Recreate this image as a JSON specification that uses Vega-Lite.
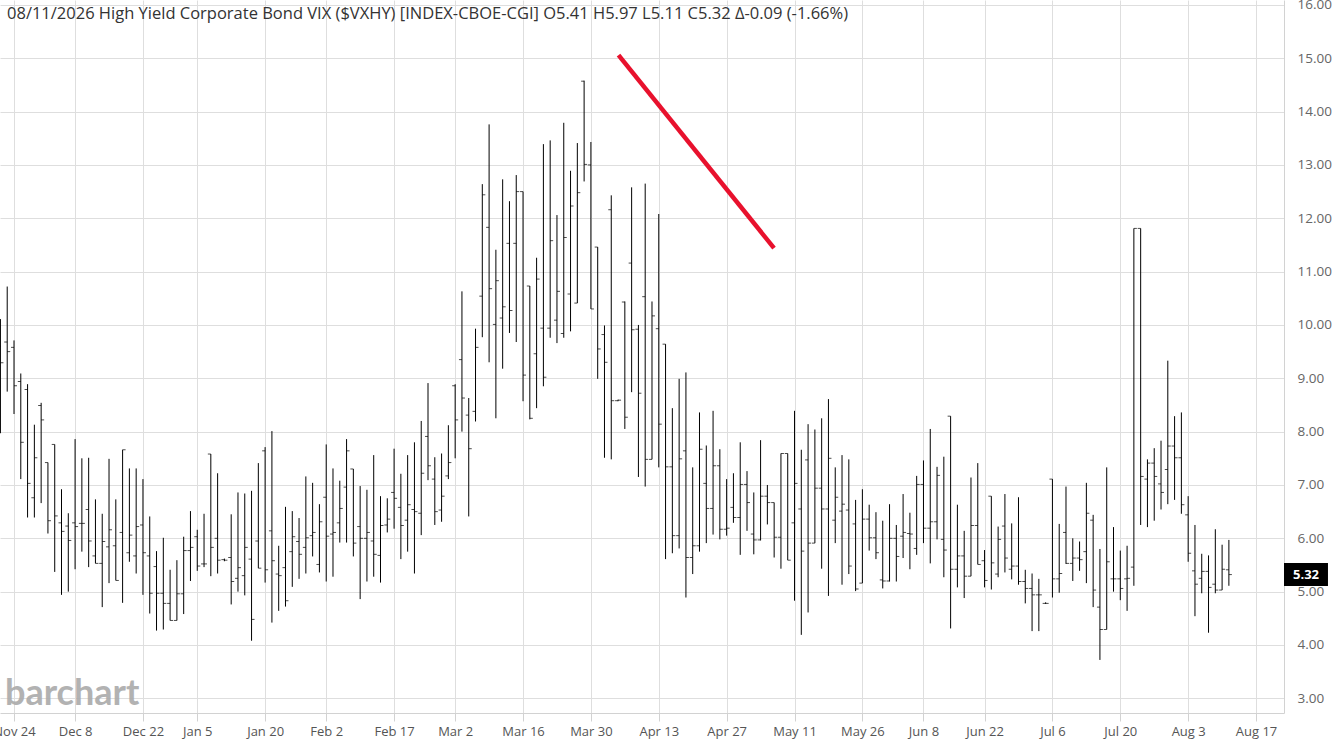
{
  "$schema": "https://vega.github.io/schema/vega-lite/v6.json",
  "width": 1284,
  "height": 713,
  "autosize": {"type": "none"},
  "padding": {"left": 0, "top": 0, "right": 53, "bottom": 30},
  "background": "#ffffff",
  "config": {
    "view": {"stroke": null},
    "axis": {"zindex": 0, "labelFont": "Open Sans", "titleFont": "Open Sans"},
    "text": {"font": "Open Sans"}
  },
  "datasets": {
    "bars": [
      {"t":0,"o":9.6,"h":10.11,"l":7.97,"c":9.29},
      {"t":1,"o":9.68,"h":10.72,"l":8.75,"c":9.5},
      {"t":2,"o":9.58,"h":9.71,"l":8.33,"c":8.86},
      {"t":3,"o":8.94,"h":9.09,"l":7.11,"c":7.8},
      {"t":4,"o":8.79,"h":8.89,"l":6.39,"c":7.03},
      {"t":5,"o":6.76,"h":8.13,"l":6.39,"c":7.51},
      {"t":6,"o":8.49,"h":8.54,"l":6.66,"c":8.22},
      {"t":7,"o":7.42,"h":7.42,"l":6.09,"c":6.33},
      {"t":8,"o":7.76,"h":7.76,"l":5.37,"c":6.42},
      {"t":9,"o":6.29,"h":6.92,"l":4.94,"c":6.13},
      {"t":10,"o":6.23,"h":6.47,"l":5.0,"c":5.96},
      {"t":11,"o":6.29,"h":7.86,"l":5.42,"c":6.22},
      {"t":12,"o":6.28,"h":7.5,"l":5.75,"c":6.28},
      {"t":13,"o":6.54,"h":7.51,"l":5.46,"c":5.95},
      {"t":14,"o":5.67,"h":6.73,"l":5.53,"c":5.53},
      {"t":15,"o":5.53,"h":6.46,"l":4.71,"c":5.94},
      {"t":16,"o":5.84,"h":7.49,"l":5.16,"c":6.16},
      {"t":17,"o":5.86,"h":6.73,"l":5.21,"c":5.21},
      {"t":18,"o":6.11,"h":7.66,"l":4.79,"c":7.66},
      {"t":19,"o":5.73,"h":7.31,"l":5.56,"c":6.06},
      {"t":20,"o":5.67,"h":7.31,"l":5.34,"c":6.22},
      {"t":21,"o":6.25,"h":7.11,"l":4.94,"c":5.73},
      {"t":22,"o":5.67,"h":6.41,"l":4.59,"c":4.97},
      {"t":23,"o":5.47,"h":5.76,"l":4.27,"c":4.97},
      {"t":24,"o":4.97,"h":6.01,"l":4.29,"c":4.78},
      {"t":25,"o":4.78,"h":5.41,"l":4.46,"c":4.46},
      {"t":26,"o":4.46,"h":5.59,"l":4.46,"c":4.96},
      {"t":27,"o":4.96,"h":6.03,"l":4.58,"c":5.77},
      {"t":28,"o":5.77,"h":6.51,"l":5.2,"c":5.83},
      {"t":29,"o":6.03,"h":6.16,"l":5.39,"c":5.48},
      {"t":30,"o":5.52,"h":6.46,"l":5.46,"c":5.52},
      {"t":31,"o":7.58,"h":7.58,"l":5.29,"c":5.83},
      {"t":32,"o":6.0,"h":7.22,"l":5.34,"c":5.59},
      {"t":33,"o":5.6,"h":5.62,"l":5.57,"c":5.59},
      {"t":34,"o":5.64,"h":6.45,"l":4.76,"c":5.19},
      {"t":35,"o":5.25,"h":6.86,"l":5.0,"c":5.45},
      {"t":36,"o":5.3,"h":6.84,"l":4.93,"c":5.83},
      {"t":37,"o":5.61,"h":6.89,"l":4.08,"c":4.48},
      {"t":38,"o":5.95,"h":7.41,"l":5.44,"c":5.44},
      {"t":39,"o":7.64,"h":7.71,"l":5.17,"c":5.41},
      {"t":40,"o":6.14,"h":8.01,"l":4.42,"c":5.58},
      {"t":41,"o":5.33,"h":5.86,"l":4.64,"c":5.3},
      {"t":42,"o":5.45,"h":6.59,"l":4.72,"c":4.83},
      {"t":43,"o":5.75,"h":6.51,"l":5.09,"c":6.03},
      {"t":44,"o":5.94,"h":6.38,"l":5.24,"c":5.7},
      {"t":45,"o":5.83,"h":7.16,"l":5.34,"c":6.01},
      {"t":46,"o":6.05,"h":7.04,"l":5.66,"c":6.11},
      {"t":47,"o":5.51,"h":6.64,"l":5.36,"c":6.31},
      {"t":48,"o":6.77,"h":7.76,"l":5.19,"c":6.04},
      {"t":49,"o":6.08,"h":7.31,"l":5.28,"c":6.11},
      {"t":50,"o":6.29,"h":7.08,"l":5.92,"c":6.56},
      {"t":51,"o":6.96,"h":7.86,"l":5.92,"c":7.64},
      {"t":52,"o":7.3,"h":7.3,"l":5.66,"c":5.91},
      {"t":53,"o":6.22,"h":6.98,"l":4.86,"c":6.0},
      {"t":54,"o":6.0,"h":6.91,"l":5.19,"c":6.11},
      {"t":55,"o":5.95,"h":7.56,"l":5.28,"c":5.7},
      {"t":56,"o":5.68,"h":6.79,"l":5.17,"c":6.24},
      {"t":57,"o":6.25,"h":6.75,"l":6.11,"c":6.36},
      {"t":58,"o":6.86,"h":7.68,"l":6.18,"c":6.75},
      {"t":59,"o":6.58,"h":7.21,"l":5.61,"c":6.24},
      {"t":60,"o":6.34,"h":7.56,"l":5.75,"c":6.63},
      {"t":61,"o":6.54,"h":7.8,"l":5.34,"c":6.5},
      {"t":62,"o":6.47,"h":8.2,"l":6.06,"c":7.22},
      {"t":63,"o":7.91,"h":8.91,"l":7.09,"c":7.36},
      {"t":64,"o":7.11,"h":7.52,"l":6.25,"c":6.5},
      {"t":65,"o":6.53,"h":7.59,"l":6.31,"c":6.79},
      {"t":66,"o":7.17,"h":8.12,"l":7.11,"c":7.42},
      {"t":67,"o":8.86,"h":8.89,"l":7.5,"c":8.22},
      {"t":68,"o":9.35,"h":10.63,"l":8.0,"c":8.63},
      {"t":69,"o":8.31,"h":8.63,"l":6.41,"c":7.68},
      {"t":70,"o":8.38,"h":9.93,"l":8.19,"c":9.58},
      {"t":71,"o":10.54,"h":12.64,"l":9.77,"c":12.44},
      {"t":72,"o":11.83,"h":13.76,"l":9.3,"c":10.68},
      {"t":73,"o":10.01,"h":11.41,"l":8.25,"c":10.83},
      {"t":74,"o":10.13,"h":12.73,"l":9.18,"c":10.34},
      {"t":75,"o":11.53,"h":12.32,"l":9.85,"c":10.27},
      {"t":76,"o":11.53,"h":12.81,"l":9.68,"c":12.5},
      {"t":77,"o":12.5,"h":12.5,"l":8.57,"c":9.06},
      {"t":78,"o":10.73,"h":10.73,"l":8.23,"c":8.25},
      {"t":79,"o":9.46,"h":11.26,"l":8.44,"c":10.86},
      {"t":80,"o":9.94,"h":13.39,"l":8.85,"c":9.02},
      {"t":81,"o":9.94,"h":13.46,"l":9.76,"c":11.58},
      {"t":82,"o":10.09,"h":12.06,"l":9.66,"c":10.63},
      {"t":83,"o":9.84,"h":13.79,"l":9.76,"c":11.64},
      {"t":84,"o":10.58,"h":12.89,"l":9.88,"c":12.23},
      {"t":85,"o":10.41,"h":13.41,"l":10.41,"c":12.48},
      {"t":86,"o":14.57,"h":14.58,"l":12.69,"c":13.01},
      {"t":87,"o":13.0,"h":13.43,"l":10.3,"c":10.3},
      {"t":88,"o":11.46,"h":11.46,"l":8.99,"c":9.55},
      {"t":89,"o":9.82,"h":9.99,"l":7.51,"c":9.3},
      {"t":90,"o":12.16,"h":12.43,"l":7.48,"c":8.58},
      {"t":91,"o":8.58,"h":8.6,"l":8.57,"c":8.59},
      {"t":92,"o":10.43,"h":10.44,"l":8.05,"c":8.27},
      {"t":93,"o":11.16,"h":12.58,"l":8.74,"c":9.91},
      {"t":94,"o":9.92,"h":10.0,"l":7.15,"c":8.72},
      {"t":95,"o":10.53,"h":12.65,"l":6.97,"c":7.48},
      {"t":96,"o":7.48,"h":10.44,"l":7.48,"c":10.17},
      {"t":97,"o":9.93,"h":12.08,"l":7.33,"c":8.14},
      {"t":98,"o":9.64,"h":9.64,"l":5.61,"c":7.34},
      {"t":99,"o":7.34,"h":8.44,"l":5.72,"c":6.05},
      {"t":100,"o":6.05,"h":8.99,"l":5.81,"c":7.49},
      {"t":101,"o":7.64,"h":9.11,"l":4.89,"c":5.64},
      {"t":102,"o":5.64,"h":7.33,"l":5.33,"c":5.86},
      {"t":103,"o":5.86,"h":8.36,"l":5.75,"c":7.67},
      {"t":104,"o":7.03,"h":7.74,"l":5.91,"c":6.56},
      {"t":105,"o":6.56,"h":8.39,"l":6.07,"c":7.36},
      {"t":106,"o":7.36,"h":7.67,"l":5.98,"c":6.17},
      {"t":107,"o":6.17,"h":7.11,"l":6.05,"c":6.19},
      {"t":108,"o":6.58,"h":7.22,"l":6.29,"c":6.39},
      {"t":109,"o":6.39,"h":7.8,"l":5.69,"c":7.01},
      {"t":110,"o":7.01,"h":7.26,"l":6.14,"c":6.67},
      {"t":111,"o":6.08,"h":6.86,"l":5.7,"c":5.97},
      {"t":112,"o":5.97,"h":7.84,"l":5.96,"c":6.79},
      {"t":113,"o":6.79,"h":7.0,"l":6.26,"c":6.67},
      {"t":114,"o":6.67,"h":6.67,"l":5.64,"c":6.02},
      {"t":115,"o":6.02,"h":7.59,"l":5.43,"c":7.59},
      {"t":116,"o":7.59,"h":7.59,"l":5.59,"c":5.59},
      {"t":117,"o":6.29,"h":8.39,"l":4.83,"c":7.03},
      {"t":118,"o":6.55,"h":7.66,"l":4.19,"c":5.76},
      {"t":119,"o":7.47,"h":8.14,"l":4.61,"c":5.91},
      {"t":120,"o":5.91,"h":8.04,"l":5.91,"c":6.94},
      {"t":121,"o":6.94,"h":8.25,"l":5.43,"c":6.55},
      {"t":122,"o":6.55,"h":8.61,"l":4.92,"c":7.5},
      {"t":123,"o":6.34,"h":7.33,"l":5.91,"c":6.77},
      {"t":124,"o":6.51,"h":7.56,"l":5.13,"c":6.64},
      {"t":125,"o":6.53,"h":7.48,"l":5.33,"c":5.48},
      {"t":126,"o":6.27,"h":6.72,"l":5.01,"c":5.05},
      {"t":127,"o":5.16,"h":6.92,"l":5.16,"c":6.36},
      {"t":128,"o":6.36,"h":6.63,"l":5.77,"c":6.01},
      {"t":129,"o":6.01,"h":6.49,"l":5.61,"c":5.73},
      {"t":130,"o":5.22,"h":6.33,"l":5.06,"c":5.2},
      {"t":131,"o":5.2,"h":6.64,"l":5.19,"c":6.0},
      {"t":132,"o":6.0,"h":6.25,"l":5.19,"c":5.66},
      {"t":133,"o":6.04,"h":6.83,"l":5.63,"c":6.11},
      {"t":134,"o":6.09,"h":6.48,"l":5.42,"c":6.08},
      {"t":135,"o":5.81,"h":7.17,"l":5.69,"c":7.01},
      {"t":136,"o":7.01,"h":7.46,"l":5.91,"c":6.19},
      {"t":137,"o":6.19,"h":8.05,"l":5.53,"c":6.31},
      {"t":138,"o":6.31,"h":7.34,"l":5.98,"c":7.18},
      {"t":139,"o":5.98,"h":7.53,"l":5.27,"c":5.78},
      {"t":140,"o":8.29,"h":8.29,"l":4.31,"c":5.42},
      {"t":141,"o":5.42,"h":6.63,"l":5.08,"c":5.67},
      {"t":142,"o":5.67,"h":6.14,"l":4.88,"c":5.29},
      {"t":143,"o":5.29,"h":7.14,"l":5.29,"c":6.24},
      {"t":144,"o":6.24,"h":7.41,"l":5.51,"c":5.51},
      {"t":145,"o":5.58,"h":5.78,"l":5.08,"c":5.21},
      {"t":146,"o":6.79,"h":6.79,"l":5.04,"c":5.54},
      {"t":147,"o":5.33,"h":6.22,"l":5.27,"c":5.98},
      {"t":148,"o":6.23,"h":6.83,"l":5.36,"c":5.63},
      {"t":149,"o":5.42,"h":6.28,"l":5.23,"c":5.48},
      {"t":150,"o":5.48,"h":6.77,"l":5.13,"c":5.19},
      {"t":151,"o":5.19,"h":5.41,"l":4.78,"c":5.06},
      {"t":152,"o":5.06,"h":5.34,"l":4.26,"c":4.94},
      {"t":153,"o":4.94,"h":5.24,"l":4.26,"c":4.94},
      {"t":154,"o":4.78,"h":4.8,"l":4.77,"c":4.78},
      {"t":155,"o":7.11,"h":7.11,"l":4.89,"c":5.24},
      {"t":156,"o":5.24,"h":6.27,"l":4.98,"c":5.34},
      {"t":157,"o":6.11,"h":6.97,"l":5.52,"c":5.53},
      {"t":158,"o":5.53,"h":6.0,"l":5.2,"c":5.63},
      {"t":159,"o":5.63,"h":5.94,"l":5.39,"c":5.6},
      {"t":160,"o":5.75,"h":7.04,"l":5.16,"c":6.47},
      {"t":161,"o":6.34,"h":6.44,"l":4.71,"c":5.03},
      {"t":162,"o":4.71,"h":5.8,"l":3.72,"c":4.29},
      {"t":163,"o":4.29,"h":7.33,"l":4.29,"c":5.56},
      {"t":164,"o":5.24,"h":6.21,"l":5.0,"c":5.24},
      {"t":165,"o":5.24,"h":5.77,"l":4.84,"c":5.06},
      {"t":166,"o":5.24,"h":5.86,"l":4.64,"c":5.25},
      {"t":167,"o":5.46,"h":11.81,"l":5.11,"c":11.81},
      {"t":168,"o":11.81,"h":11.81,"l":6.25,"c":7.16},
      {"t":169,"o":7.11,"h":7.48,"l":6.21,"c":7.41},
      {"t":170,"o":7.41,"h":7.69,"l":6.33,"c":7.16},
      {"t":171,"o":7.02,"h":7.83,"l":6.54,"c":6.86},
      {"t":172,"o":7.29,"h":9.33,"l":6.64,"c":7.73},
      {"t":173,"o":7.73,"h":8.29,"l":6.72,"c":7.51},
      {"t":174,"o":7.51,"h":8.36,"l":6.46,"c":6.63},
      {"t":175,"o":6.44,"h":6.79,"l":5.56,"c":5.72},
      {"t":176,"o":5.39,"h":6.25,"l":4.54,"c":5.14},
      {"t":177,"o":5.25,"h":5.71,"l":4.97,"c":5.38},
      {"t":178,"o":5.38,"h":5.68,"l":4.23,"c":5.08},
      {"t":179,"o":5.14,"h":6.17,"l":4.97,"c":5.03},
      {"t":180,"o":5.03,"h":5.88,"l":5.03,"c":5.42},
      {"t":181,"o":5.41,"h":5.97,"l":5.11,"c":5.32}
    ]
  },
  "layer": [
    {
      "data": {"name": "bars"},
      "mark": {"type": "rule", "color": "#000000", "strokeWidth": 1, "clip": true},
      "encoding": {
        "x": {
          "field": "t", "type": "quantitative", "title": null,
          "scale": {"domain": [-0.063, 189.12], "nice": false, "zero": false},
          "axis": {
            "values": [2, 11, 21, 29, 39, 48, 58, 67, 77, 87, 97, 107, 117, 127, 136, 145, 155, 165, 175, 185],
            "labelExpr": "['Nov 24','Dec 8','Dec 22','Jan 5','Jan 20','Feb 2','Feb 17','Mar 2','Mar 16','Mar 30','Apr 13','Apr 27','May 11','May 26','Jun 8','Jun 22','Jul 6','Jul 20','Aug 3','Aug 17'][indexof([2,11,21,29,39,48,58,67,77,87,97,107,117,127,136,145,155,165,175,185], datum.value)]",
            "grid": true, "gridColor": "#dedede", "gridWidth": 1,
            "domainColor": "#d2d2d2", "tickColor": "#d2d2d2", "tickSize": 8,
            "labelColor": "#555555", "labelFontSize": 13, "labelPadding": 4,
            "labelFlush": false, "labelOverlap": false, "labelBound": false
          }
        },
        "y": {
          "field": "l", "type": "quantitative", "title": null,
          "scale": {"domain": [2.725, 16.092], "nice": false, "zero": false},
          "axis": {
            "orient": "right",
            "values": [3, 4, 5, 6, 7, 8, 9, 10, 11, 12, 13, 14, 15, 16],
            "format": ".2f",
            "grid": true, "gridColor": "#dedede", "gridWidth": 1,
            "domainColor": "#d2d2d2", "ticks": false,
            "labelColor": "#666666", "labelFontSize": 13.5, "labelPadding": 13,
            "labelFlush": false, "labelOverlap": false
          }
        },
        "y2": {"field": "h"}
      }
    },
    {
      "data": {"name": "bars"},
      "mark": {"type": "tick", "orient": "horizontal", "size": 3, "thickness": 1, "xOffset": -1.5, "color": "#000000", "clip": true},
      "encoding": {
        "x": {"field": "t", "type": "quantitative", "title": null, "scale": {"domain": [-0.063, 189.12], "nice": false, "zero": false}},
        "y": {"field": "o", "type": "quantitative", "title": null, "scale": {"domain": [2.725, 16.092], "nice": false, "zero": false}}
      }
    },
    {
      "data": {"name": "bars"},
      "mark": {"type": "tick", "orient": "horizontal", "size": 3, "thickness": 1, "xOffset": 1.5, "color": "#000000", "clip": true},
      "encoding": {
        "x": {"field": "t", "type": "quantitative", "title": null, "scale": {"domain": [-0.063, 189.12], "nice": false, "zero": false}},
        "y": {"field": "c", "type": "quantitative", "title": null, "scale": {"domain": [2.725, 16.092], "nice": false, "zero": false}}
      }
    },
    {
      "data": {"values": [{"x1": 91.07, "y1": 15.06, "x2": 113.98, "y2": 11.44}]},
      "mark": {"type": "rule", "color": "#e8112d", "strokeWidth": 4.5},
      "encoding": {
        "x": {"field": "x1", "type": "quantitative", "title": null},
        "y": {"field": "y1", "type": "quantitative", "title": null},
        "x2": {"field": "x2"},
        "y2": {"field": "y2"}
      }
    },
    {
      "data": {"values": [{"label": "08/11/2026 High Yield Corporate Bond VIX ($VXHY) [INDEX-CBOE-CGI] O5.41 H5.97 L5.11 C5.32 Δ-0.09 (-1.66%)"}]},
      "mark": {"type": "text", "align": "left", "baseline": "alphabetic", "fontSize": 16.5, "color": "#333333"},
      "encoding": {
        "x": {"datum": 0.97, "type": "quantitative"},
        "y": {"datum": 15.741, "type": "quantitative"},
        "text": {"field": "label"}
      }
    },
    {
      "data": {"values": [{"label": "barchart"}]},
      "mark": {"type": "text", "align": "left", "baseline": "alphabetic", "font": "Lato", "fontWeight": "bold", "fontSize": 36, "color": "#aaaaaa", "opacity": 0.9},
      "encoding": {
        "x": {"datum": 0.67, "type": "quantitative"},
        "y": {"datum": 2.875, "type": "quantitative"},
        "text": {"field": "label"}
      }
    },
    {
      "data": {"values": [{"last": 5.32}]},
      "layer": [
        {
          "mark": {"type": "rect", "color": "#000000"},
          "encoding": {
            "x": {"datum": 189.12, "type": "quantitative"},
            "x2": {"datum": 195.6},
            "y": {"datum": 5.106, "type": "quantitative"},
            "y2": {"datum": 5.537}
          }
        },
        {
          "mark": {"type": "text", "align": "center", "baseline": "middle", "fontSize": 13, "fontWeight": "bold", "color": "#ffffff"},
          "encoding": {
            "x": {"datum": 192.36, "type": "quantitative"},
            "y": {"field": "last", "type": "quantitative", "title": null},
            "text": {"field": "last", "format": ".2f"}
          }
        }
      ]
    }
  ]
}
